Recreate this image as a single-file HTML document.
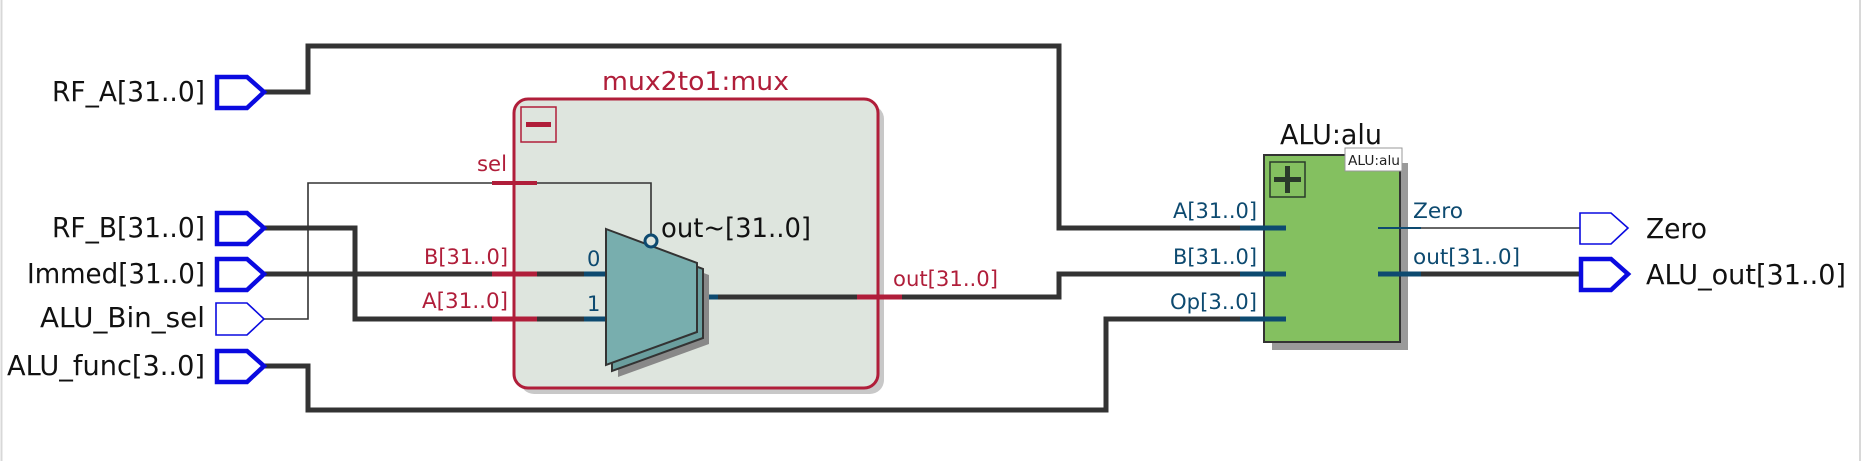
<!DOCTYPE html>
<html><head><meta charset="utf-8"><style>
html,body{margin:0;padding:0;background:#fff;}
svg{display:block;}
text{font-family:"DejaVu Sans","Liberation Sans",sans-serif;}
</style></head><body>
<svg width="1867" height="461" viewBox="0 0 1867 461" xmlns="http://www.w3.org/2000/svg">
<rect width="1867" height="461" fill="#fff"/>
<line x1="1.5" y1="0" x2="1.5" y2="461" stroke="#d8d8d8" stroke-width="2"/>
<line x1="1860" y1="0" x2="1860" y2="461" stroke="#d8d8d8" stroke-width="2"/>

<!-- mux box -->
<rect x="520" y="105" width="364" height="289" rx="14" fill="#c8c8c8"/>
<rect x="514" y="99" width="364" height="289" rx="14" fill="#dee5de" stroke="#b01e3a" stroke-width="3"/>
<rect x="521" y="107" width="35" height="35" fill="none" stroke="#b01e3a" stroke-width="1.5"/>
<rect x="526" y="122" width="25" height="5" fill="#b01e3a"/>
<text x="602" y="90" font-size="26" fill="#b01e3a" textLength="187" lengthAdjust="spacingAndGlyphs">mux2to1:mux</text>

<!-- ALU box -->
<rect x="1272" y="163" width="136" height="187" fill="#9a9a9a"/>
<rect x="1264" y="155" width="136" height="187" fill="#84c060" stroke="#333" stroke-width="2"/>
<rect x="1270" y="162" width="35" height="35" fill="none" stroke="#2a3a2a" stroke-width="1.5"/>
<rect x="1285" y="166" width="5" height="27" fill="#2a3a2a"/>
<rect x="1274" y="177" width="27" height="5" fill="#2a3a2a"/>
<rect x="1345" y="148" width="57" height="23" fill="#fff" stroke="#999" stroke-width="1"/>
<text x="1348" y="165" font-size="13" fill="#222" textLength="52" lengthAdjust="spacingAndGlyphs">ALU:alu</text>
<text x="1280" y="144" font-size="28" fill="#111" textLength="102" lengthAdjust="spacingAndGlyphs">ALU:alu</text>

<!-- thick wires -->
<g fill="none" stroke="#333" stroke-width="5">
<polyline points="264,92 308,92 308,46 1059,46 1059,228 1242,228"/>
<polyline points="264,228 355,228 355,319 584,319"/>
<polyline points="264,274 584,274"/>
<polyline points="264,366 308,366 308,410 1106,410 1106,319 1242,319"/>
<polyline points="718,297 1059,297 1059,274 1242,274"/>
<polyline points="1421,274 1581,274"/>
</g>
<!-- thin wires -->
<g fill="none" stroke="#333" stroke-width="1.6">
<polyline points="264,319 308,319 308,183 651,183 651,234"/>
<polyline points="1378,228 1581,228"/>
</g>

<!-- red pins on mux -->
<g stroke="#b01e3a" stroke-width="5">
<line x1="492" y1="183" x2="537" y2="183" stroke-width="4"/>
<line x1="492" y1="274" x2="537" y2="274"/>
<line x1="492" y1="319" x2="537" y2="319"/>
<line x1="857" y1="297" x2="902" y2="297"/>
</g>
<!-- blue pins -->
<g stroke="#0d4a70" stroke-width="5">
<line x1="584" y1="274" x2="606" y2="274"/>
<line x1="584" y1="319" x2="606" y2="319"/>
<line x1="698" y1="297" x2="718" y2="297"/>
<line x1="1240" y1="228" x2="1286" y2="228"/>
<line x1="1240" y1="274" x2="1286" y2="274"/>
<line x1="1240" y1="319" x2="1286" y2="319"/>
<line x1="1378" y1="274" x2="1421" y2="274"/>
<line x1="1378" y1="228" x2="1421" y2="228" stroke-width="2"/>
</g>

<!-- mux shape -->
<polygon points="618,241 709,275 709,344 618,377" fill="#888"/>
<polygon points="612,235 703,269 703,338 612,371" fill="#6a9e9e" stroke="#333" stroke-width="2"/>
<polygon points="606,229 697,263 697,332 606,365" fill="#78aeae" stroke="#333" stroke-width="2"/>
<circle cx="651" cy="241" r="6" fill="#dee5de" stroke="#0d4a70" stroke-width="3"/>

<!-- mux labels -->
<text x="477" y="171" font-size="21" fill="#b01e3a" textLength="30" lengthAdjust="spacingAndGlyphs">sel</text>
<text x="424" y="264" font-size="21" fill="#b01e3a" textLength="84" lengthAdjust="spacingAndGlyphs">B[31..0]</text>
<text x="422" y="308" font-size="21" fill="#b01e3a" textLength="86" lengthAdjust="spacingAndGlyphs">A[31..0]</text>
<text x="587" y="266" font-size="21" fill="#0d4a70">0</text>
<text x="587" y="311" font-size="21" fill="#0d4a70">1</text>
<text x="661" y="237" font-size="27" fill="#111" textLength="150" lengthAdjust="spacingAndGlyphs">out~[31..0]</text>
<text x="893" y="286" font-size="21" fill="#b01e3a" textLength="105" lengthAdjust="spacingAndGlyphs">out[31..0]</text>

<!-- ALU labels -->
<text x="1173" y="218" font-size="21" fill="#0d4a70" textLength="84" lengthAdjust="spacingAndGlyphs">A[31..0]</text>
<text x="1173" y="264" font-size="21" fill="#0d4a70" textLength="84" lengthAdjust="spacingAndGlyphs">B[31..0]</text>
<text x="1170" y="309" font-size="21" fill="#0d4a70" textLength="87" lengthAdjust="spacingAndGlyphs">Op[3..0]</text>
<text x="1413" y="218" font-size="21" fill="#0d4a70" textLength="50" lengthAdjust="spacingAndGlyphs">Zero</text>
<text x="1413" y="264" font-size="21" fill="#0d4a70" textLength="107" lengthAdjust="spacingAndGlyphs">out[31..0]</text>

<!-- ports -->
<g fill="#fff" stroke="#0a0ae0" stroke-width="4.5" stroke-linejoin="miter">
<polygon points="217,77 247,77 264,92 247,108 217,108"/>
<polygon points="217,213 247,213 264,228 247,244 217,244"/>
<polygon points="217,259 247,259 264,274 247,290 217,290"/>
<polygon points="217,351 247,351 264,366 247,382 217,382"/>
<polygon points="1581,259 1611,259 1628,274 1611,290 1581,290"/>
</g>
<g fill="#fff" stroke="#0a0ae0" stroke-width="1.6">
<polygon points="216,303 247,303 264,319 247,335 216,335"/>
<polygon points="1580,213 1611,213 1628,228 1611,244 1580,244"/>
</g>

<!-- port labels -->
<g font-size="28" fill="#111">
<text x="52" y="101" textLength="153" lengthAdjust="spacingAndGlyphs">RF_A[31..0]</text>
<text x="52" y="237" textLength="153" lengthAdjust="spacingAndGlyphs">RF_B[31..0]</text>
<text x="27" y="283" textLength="178" lengthAdjust="spacingAndGlyphs">Immed[31..0]</text>
<text x="40" y="327" textLength="165" lengthAdjust="spacingAndGlyphs">ALU_Bin_sel</text>
<text x="7" y="375" textLength="198" lengthAdjust="spacingAndGlyphs">ALU_func[3..0]</text>
<text x="1646" y="238" textLength="61" lengthAdjust="spacingAndGlyphs">Zero</text>
<text x="1646" y="284" textLength="200" lengthAdjust="spacingAndGlyphs">ALU_out[31..0]</text>
</g>
</svg>
</body></html>
